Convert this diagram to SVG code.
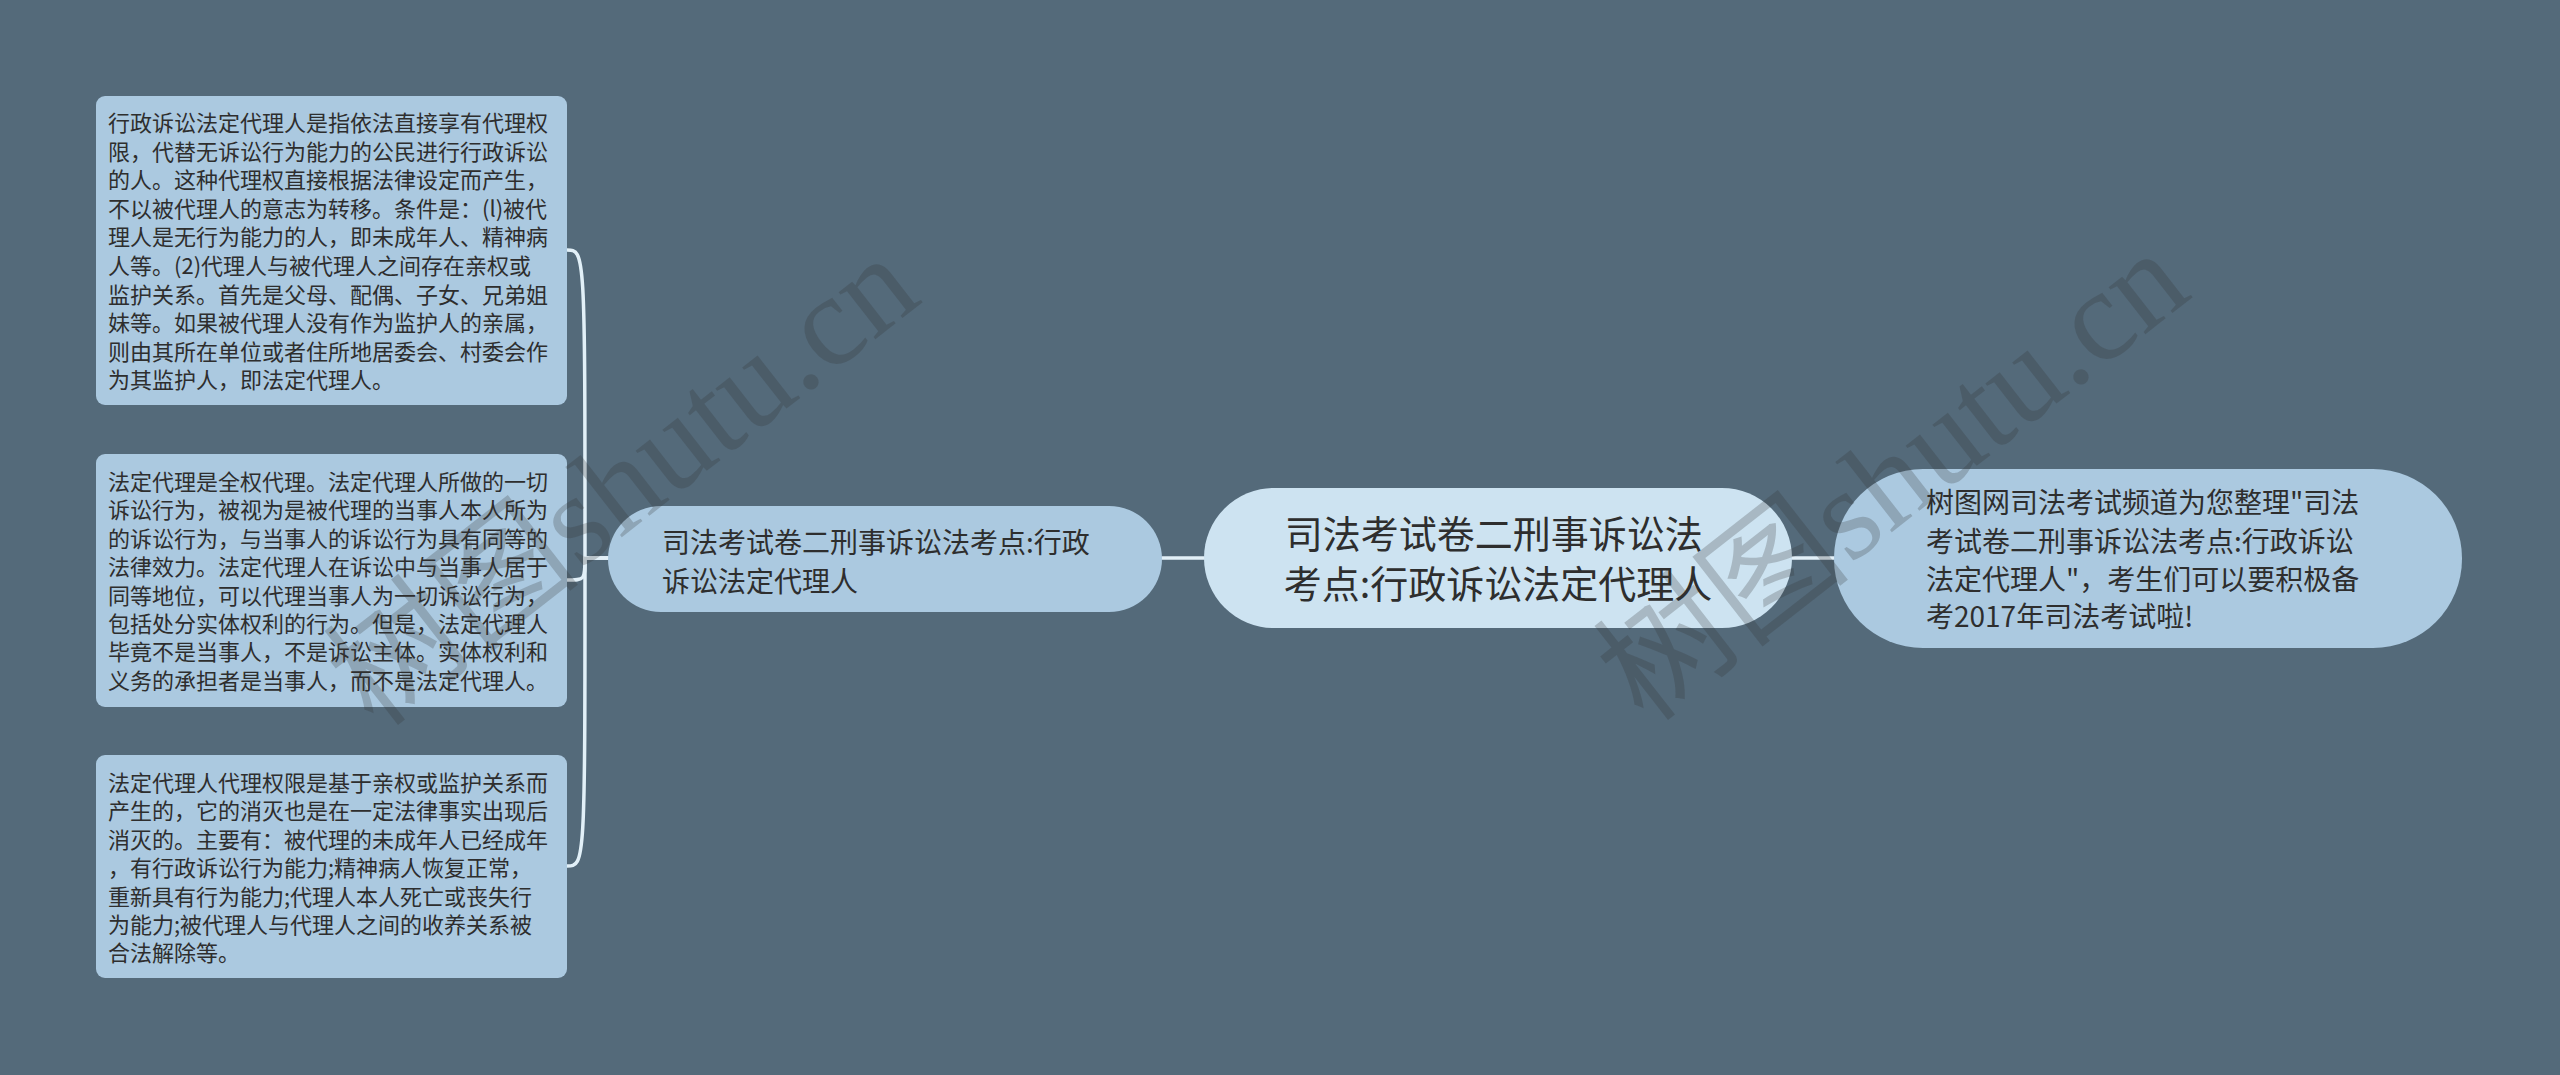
<svg xmlns="http://www.w3.org/2000/svg" width="2560" height="1075" viewBox="0 0 2560 1075">
<style>
.bg{fill:#546a7a}
.box{fill:#abc9e0}
.sub{fill:#abc9e0}
.root{fill:#cde3f1}
.t{font-family:"Noto Sans CJK SC","Noto Sans",sans-serif;fill:#2e2e2e}
.small{font-size:22px}
.mid{font-size:28px}
.big{font-size:38px}
.conn{fill:none;stroke:#e2f0f8;stroke-width:3.5;stroke-linecap:round}
.wm{font-family:"Liberation Serif","Noto Sans CJK SC",serif;font-size:130px;fill:#333;fill-opacity:0.24}
</style>
<rect class="bg" x="0" y="0" width="2560" height="1075"/>
<g id="connectors">
<path class="conn" d="M608 558 L585 558 C585 250 585 250 567 250"/>
<path class="conn" d="M608 558 L585 558 C585 580 585 580 567 580"/>
<path class="conn" d="M608 558 L585 558 C585 866 585 866 567 866"/>
<path class="conn" d="M1162 558 L1204 558"/>
<path class="conn" d="M1792 558 L1834 558"/>
</g>
<g id="box1">
<rect class="box" x="96" y="96" width="471" height="309" rx="9"/>
<text class="t small">
<tspan x="108" y="131">行政诉讼法定代理人是指依法直接享有代理权</tspan>
<tspan x="108" y="159.6">限，代替无诉讼行为能力的公民进行行政诉讼</tspan>
<tspan x="108" y="188.2">的人。这种代理权直接根据法律设定而产生，</tspan>
<tspan x="108" y="216.8">不以被代理人的意志为转移。条件是：(l)被代</tspan>
<tspan x="108" y="245.4">理人是无行为能力的人，即未成年人、精神病</tspan>
<tspan x="108" y="274">人等。(2)代理人与被代理人之间存在亲权或</tspan>
<tspan x="108" y="302.6">监护关系。首先是父母、配偶、子女、兄弟姐</tspan>
<tspan x="108" y="331.2">妹等。如果被代理人没有作为监护人的亲属，</tspan>
<tspan x="108" y="359.8">则由其所在单位或者住所地居委会、村委会作</tspan>
<tspan x="108" y="388.4">为其监护人，即法定代理人。</tspan>
</text>
</g>
<g id="box2">
<rect class="box" x="96" y="454" width="471" height="253" rx="9"/>
<text class="t small">
<tspan x="108" y="490">法定代理是全权代理。法定代理人所做的一切</tspan>
<tspan x="108" y="518.4">诉讼行为，被视为是被代理的当事人本人所为</tspan>
<tspan x="108" y="546.8">的诉讼行为，与当事人的诉讼行为具有同等的</tspan>
<tspan x="108" y="575.2">法律效力。法定代理人在诉讼中与当事人居于</tspan>
<tspan x="108" y="603.6">同等地位，可以代理当事人为一切诉讼行为，</tspan>
<tspan x="108" y="632">包括处分实体权利的行为。但是，法定代理人</tspan>
<tspan x="108" y="660.4">毕竟不是当事人，不是诉讼主体。实体权利和</tspan>
<tspan x="108" y="688.8">义务的承担者是当事人，而不是法定代理人。</tspan>
</text>
</g>
<g id="box3">
<rect class="box" x="96" y="755" width="471" height="223" rx="9"/>
<text class="t small">
<tspan x="108" y="791">法定代理人代理权限是基于亲权或监护关系而</tspan>
<tspan x="108" y="819.4">产生的，它的消灭也是在一定法律事实出现后</tspan>
<tspan x="108" y="847.8">消灭的。主要有：被代理的未成年人已经成年</tspan>
<tspan x="108" y="876.2">，有行政诉讼行为能力;精神病人恢复正常，</tspan>
<tspan x="108" y="904.6">重新具有行为能力;代理人本人死亡或丧失行</tspan>
<tspan x="108" y="933">为能力;被代理人与代理人之间的收养关系被</tspan>
<tspan x="108" y="961.4">合法解除等。</tspan>
</text>
</g>
<g id="left-node">
<rect class="sub" x="608" y="506" width="554" height="106" rx="53"/>
<text class="t mid">
<tspan x="662" y="553">司法考试卷二刑事诉讼法考点:行政</tspan>
<tspan x="662" y="592">诉讼法定代理人</tspan>
</text>
</g>
<g id="root">
<rect class="root" x="1204" y="488" width="588" height="140" rx="70"/>
<text class="t big" text-anchor="middle">
<tspan x="1498" y="548">司法考试卷二刑事诉讼法</tspan>
<tspan x="1498" y="598">考点:行政诉讼法定代理人</tspan>
</text>
</g>
<g id="right-node">
<rect class="sub" x="1834" y="469" width="628" height="179" rx="89"/>
<text class="t mid">
<tspan x="1926" y="513">树图网司法考试频道为您整理"司法</tspan>
<tspan x="1926" y="552">考试卷二刑事诉讼法考点:行政诉讼</tspan>
<tspan x="1926" y="590">法定代理人"，考生们可以要积极备</tspan>
<tspan x="1926" y="627">考2017年司法考试啦!</tspan>
</text>
</g>
<g id="watermarks">
<text class="wm" transform="translate(375,730) rotate(-38)">树图shutu.cn</text>
<text class="wm" transform="translate(1645,725) rotate(-38)">树图shutu.cn</text>
</g>
</svg>
